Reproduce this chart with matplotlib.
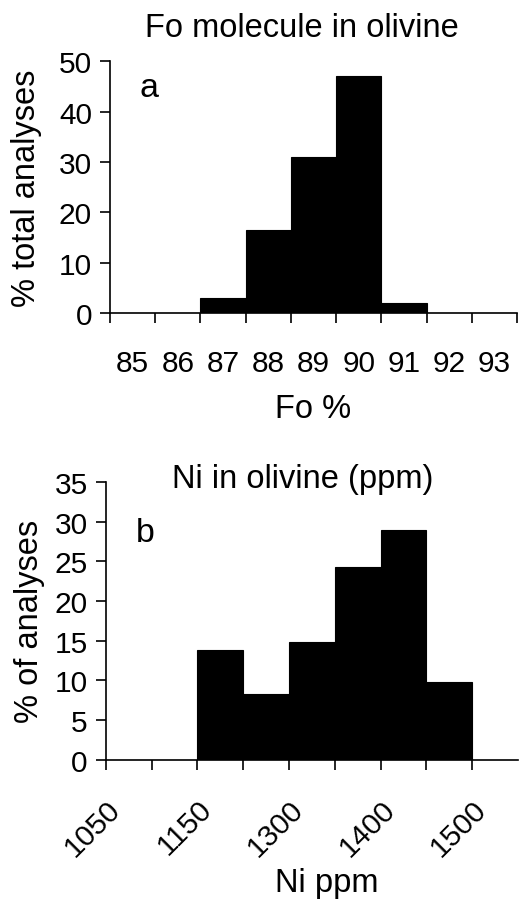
import matplotlib.pyplot as plt
import numpy as np

plt.rcParams['font.family'] = ['Liberation Sans', 'DejaVu Sans']

# Panel a: Fo content of olivine
fo_labels = ['85', '86', '87', '88', '89', '90', '91', '92', '93']
fo_pct = [0, 0, 3, 16.5, 31, 47, 2, 0, 0]

# Panel b: Ni in olivine
ni_labels = ['1050', '', '1150', '', '1300', '', '1400', '', '1500']
ni_pct = [0, 0, 13.8, 8.3, 14.8, 24.3, 29, 9.8]

fig = plt.figure(figsize=(5.19, 9.03), dpi=100)
fs = 21.5
tfs = 23.5

def style_axis(ax):
    for s in ['top', 'right']:
        ax.spines[s].set_visible(False)
    for s in ['left', 'bottom']:
        ax.spines[s].set_linewidth(1.2)
    ax.tick_params(axis='both', which='major', direction='out', length=7, width=1.2, labelsize=fs)
    ax.tick_params(axis='y', pad=6)

# ---- a ----
ax1 = fig.add_axes([0.212, 0.652, 0.784, 0.279])
x1 = np.arange(len(fo_pct))
ax1.bar(x1, fo_pct, width=1.0, align='edge', color='black', edgecolor='black', linewidth=0.8)
ax1.set_xlim(0, len(fo_pct))
ax1.set_ylim(0, 50)
ax1.set_yticks([0, 10, 20, 30, 40, 50])
ax1.set_xticks(np.arange(len(fo_pct) + 1))
ax1.set_xticklabels([])
ax1.set_xticks(x1 + 0.5, minor=True)
ax1.set_xticklabels(fo_labels, minor=True)
style_axis(ax1)
ax1.tick_params(axis='x', which='minor', length=0, pad=26, labelsize=fs)
ax1.set_ylabel('% total analyses', fontsize=tfs, labelpad=12)
ax1.text(0.65, 44.8, 'a', fontsize=tfs + 1, va='center')
fig.text(0.582, 0.968, 'Fo molecule in olivine', fontsize=tfs, ha='center', va='center')
fig.text(0.603, 0.546, 'Fo %', fontsize=tfs, ha='center', va='center')

# ---- b ----
ax2 = fig.add_axes([0.204, 0.1576, 0.794, 0.3074])
x2 = np.arange(len(ni_pct))
ax2.bar(x2, ni_pct, width=1.0, align='edge', color='black', edgecolor='black', linewidth=0.8)
ax2.set_xlim(0, 9)
ax2.set_ylim(0, 35)
ax2.set_yticks(np.arange(0, 36, 5))
ax2.set_xticks(np.arange(len(ni_labels)))
ax2.set_xticklabels(ni_labels, rotation=45, ha='right', rotation_mode='anchor')
style_axis(ax2)
ax2.tick_params(axis='x', pad=18)
ax2.set_ylabel('% of analyses', fontsize=tfs, labelpad=7)
ax2.text(0.65, 28.7, 'b', fontsize=tfs + 1, va='center')
fig.text(0.584, 0.469, 'Ni in olivine (ppm)', fontsize=tfs, ha='center', va='center')
fig.text(0.63, 0.022, 'Ni ppm', fontsize=tfs, ha='center', va='center')

fig.savefig('out.png', dpi=100)
